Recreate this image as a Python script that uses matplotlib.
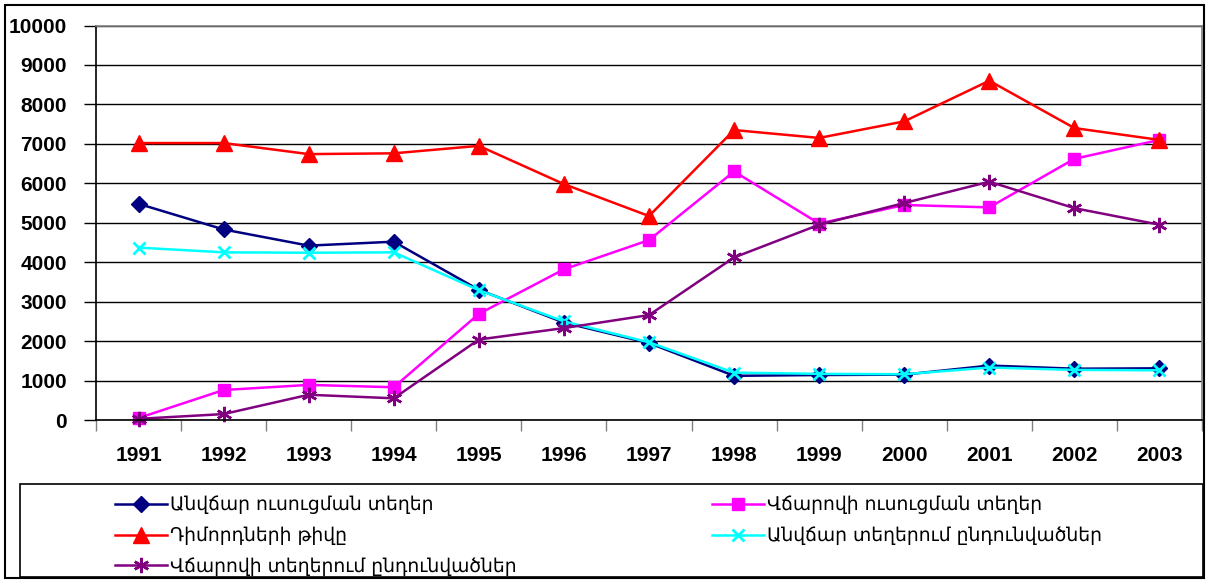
import matplotlib
matplotlib.use("Agg")
import matplotlib.pyplot as plt
from matplotlib.patches import Rectangle

years = ["1991", "1992", "1993", "1994", "1995", "1996", "1997",
         "1998", "1999", "2000", "2001", "2002", "2003"]

free_places = [5480, 4830, 4420, 4520, 3300, 2470, 1950, 1120, 1140, 1150, 1380, 1300, 1310]
paid_places = [50, 760, 890, 830, 2690, 3820, 4560, 6300, 4980, 5450, 5390, 6620, 7100]
applicants = [7020, 7020, 6740, 6760, 6950, 5980, 5170, 7350, 7150, 7570, 8600, 7400, 7100]
free_admitted = [4370, 4250, 4240, 4250, 3290, 2500, 1970, 1200, 1170, 1160, 1330, 1270, 1260]
paid_admitted = [30, 150, 640, 550, 2040, 2330, 2660, 4120, 4950, 5500, 6040, 5370, 4950]

labels = ["Անվճար ուսուցման տեղեր",
          "Վճարովի ուսուցման տեղեր",
          "Դիմորդների թիվը",
          "Անվճար տեղերում ընդունվածներ",
          "Վճարովի տեղերում ընդունվածներ"]

W, H = 1208, 581
fig = plt.figure(figsize=(W / 100, H / 100), dpi=100)
ax = fig.add_axes([96 / W, 1 - 420 / H, (1202 - 96) / W, (420 - 25.5) / H])

x = list(range(len(years)))
styles = [
    dict(color="#000080", marker="D", markersize=8, markerfacecolor="#000080", markeredgecolor="#000080"),
    dict(color="#FF00FF", marker="s", markersize=9, markerfacecolor="#FF00FF", markeredgecolor="#FF00FF"),
    dict(color="#FF0000", marker="^", markersize=11, markerfacecolor="#FF0000", markeredgecolor="#FF0000"),
    dict(color="#00FFFF", marker="x", markersize=9, markeredgewidth=2, markeredgecolor="#00FFFF"),
    dict(color="#800080", marker=(6, 2, 0), markersize=11, markeredgewidth=1.8, markeredgecolor="#800080"),
]
series = [free_places, paid_places, applicants, free_admitted, paid_admitted]
handles = []
for s, st, lab in zip(series, styles, labels):
    h, = ax.plot(x, s, linewidth=1.8, label=lab, clip_on=False, **st)
    handles.append(h)

ax.set_xlim(-0.5, len(years) - 0.5)
ax.set_ylim(0, 10000)
ax.set_yticks(range(0, 10001, 1000))
ax.yaxis.grid(True, color="black", linewidth=1.0)
ax.set_axisbelow(True)
ax.set_xticks([i - 0.5 for i in range(len(years) + 1)], minor=False)
ax.set_xticklabels([])
ax.set_xticks(x, minor=True)
ax.set_xticklabels(years, minor=True)
ax.tick_params(axis="x", which="major", direction="out", length=8, width=1, color="#808080")
ax.tick_params(axis="x", which="minor", length=0, pad=19)
ax.tick_params(axis="y", direction="out", length=9, width=1, color="black", pad=12)
for lab in ax.get_xticklabels(minor=True) + ax.get_yticklabels():
    lab.set_fontfamily(["Liberation Sans", "DejaVu Sans"])
    lab.set_fontweight("bold")
    lab.set_fontsize(15)

ax.spines["left"].set_color("black")
ax.spines["bottom"].set_color("black")
ax.spines["top"].set_color("#808080")
ax.spines["right"].set_color("#808080")
for sp in ax.spines.values():
    sp.set_linewidth(1.2)

# figure border
fig.patches.append(Rectangle((5 / W, 3 / H), (W - 9) / W, (H - 8) / H, transform=fig.transFigure,
                             fill=False, edgecolor="black", linewidth=1.5))
# legend box
fig.patches.append(Rectangle((20 / W, 4 / H), (1203 - 20) / W, (577 - 484) / H, transform=fig.transFigure,
                             fill=False, edgecolor="black", linewidth=1.2))

leg_kw = dict(frameon=False, handlelength=2.77, handletextpad=0.16, labelspacing=0.62,
              prop=dict(family="DejaVu Sans", size=13.5), borderpad=0, borderaxespad=0)
col1 = [handles[0], handles[2], handles[4]]
col2 = [handles[1], handles[3]]
fig.legend(col1, [h.get_label() for h in col1], loc="upper left",
           bbox_to_anchor=(115 / W, 1 - 495.5 / H), **leg_kw)
fig.legend(col2, [h.get_label() for h in col2], loc="upper left",
           bbox_to_anchor=(712 / W, 1 - 495.5 / H), **leg_kw)

fig.savefig("out.png", dpi=100)
